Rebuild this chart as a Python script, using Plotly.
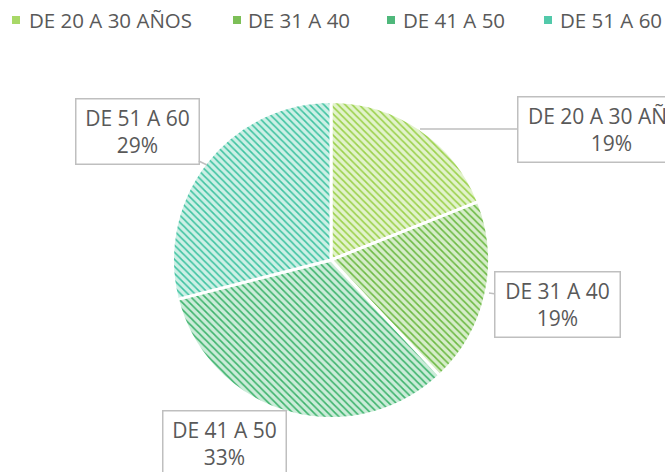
import plotly.graph_objects as go

# ---- data ----
categories = ["DE 20 A 30 AÑOS", "DE 31 A 40", "DE 41 A 50", "DE 51 A 60"]
percentages = [19, 19, 33, 29]
fg_colors = ["#9bd14b", "#6cb943", "#3db36c", "#3fc3a1"]
bg_colors = ["#e2f3cb", "#d6edc9", "#cbecd9", "#cdf0e6"]
legend_marker_colors = ["#a8d867", "#7cbf57", "#4fb87b", "#52c9aa"]

W, H = 665, 472
FONT = "Open Sans"
TXT = "#595959"
FS = 21
LEG_FS = 20.5


def px(x):
    return x / W


def py(y):
    return 1 - y / H


cx, cy, r = 331, 260, 158.5

fig = go.Figure(
    go.Pie(
        labels=categories,
        values=percentages,
        sort=False,
        direction="clockwise",
        rotation=0,
        textinfo="none",
        hoverinfo="label+percent",
        showlegend=False,
        marker=dict(
            colors=bg_colors,
            line=dict(color="white", width=3),
            pattern=dict(
                shape="\\",
                fgcolor=fg_colors,
                bgcolor=bg_colors,
                size=5,
                solidity=0.32,
                fillmode="replace",
            ),
        ),
        domain=dict(x=[px(cx - r), px(cx + r)], y=[py(cy + r), py(cy - r)]),
    )
)

# callout label boxes: (box centre x, y, tip x, y, width, show arrow)
callouts = [
    (611, 129, 420, 129, 180, True),
    (557, 304, 489, 293, 118, True),
    (224, 443, 224, 443, 116, False),
    (137, 131, 207, 165, 116, True),
]
for (bx, by, tx, ty, w, arrow), cat, pct in zip(callouts, categories, percentages):
    if arrow:
        pos = dict(x=px(tx), y=py(ty), ax=bx - tx, ay=by - ty, showarrow=True)
    else:
        pos = dict(x=px(bx), y=py(by), showarrow=False)
    fig.add_annotation(
        xref="paper", yref="paper",
        xanchor="center", yanchor="middle",
        arrowhead=0, arrowwidth=1.5, arrowcolor="#bfbfbf",
        text=f"{cat}<br>{pct}%",
        font=dict(family=FONT, size=FS, color=TXT),
        align="center",
        width=w, height=58,
        borderpad=3,
        bordercolor="#bfbfbf", borderwidth=1.5,
        bgcolor="white",
        **pos,
    )

# legend (drawn as marker squares + text, laid out like the original)
legend_marker_x = [16, 237, 391, 548]
legend_text_x = [27, 246, 401, 558]
legend_y = 20
for mx, tx_, cat, col in zip(legend_marker_x, legend_text_x, categories, legend_marker_colors):
    fig.add_shape(
        type="rect", xref="paper", yref="paper",
        x0=px(mx - 4), x1=px(mx + 4), y0=py(legend_y + 4), y1=py(legend_y - 4),
        fillcolor=col, line=dict(width=0),
    )
    fig.add_annotation(
        xref="paper", yref="paper",
        x=px(tx_), y=py(legend_y),
        xanchor="left", yanchor="middle",
        showarrow=False,
        text=cat,
        font=dict(family=FONT, size=LEG_FS, color=TXT),
    )

fig.update_layout(
    width=W, height=H,
    margin=dict(l=0, r=0, t=0, b=0),
    paper_bgcolor="white",
    plot_bgcolor="white",
    font=dict(family=FONT, size=FS, color=TXT),
    showlegend=False,
)

fig.write_html(
    "out.html",
    config={"displayModeBar": False},
    post_script="document.body.style.margin='0';document.body.style.overflow='hidden';",
)
